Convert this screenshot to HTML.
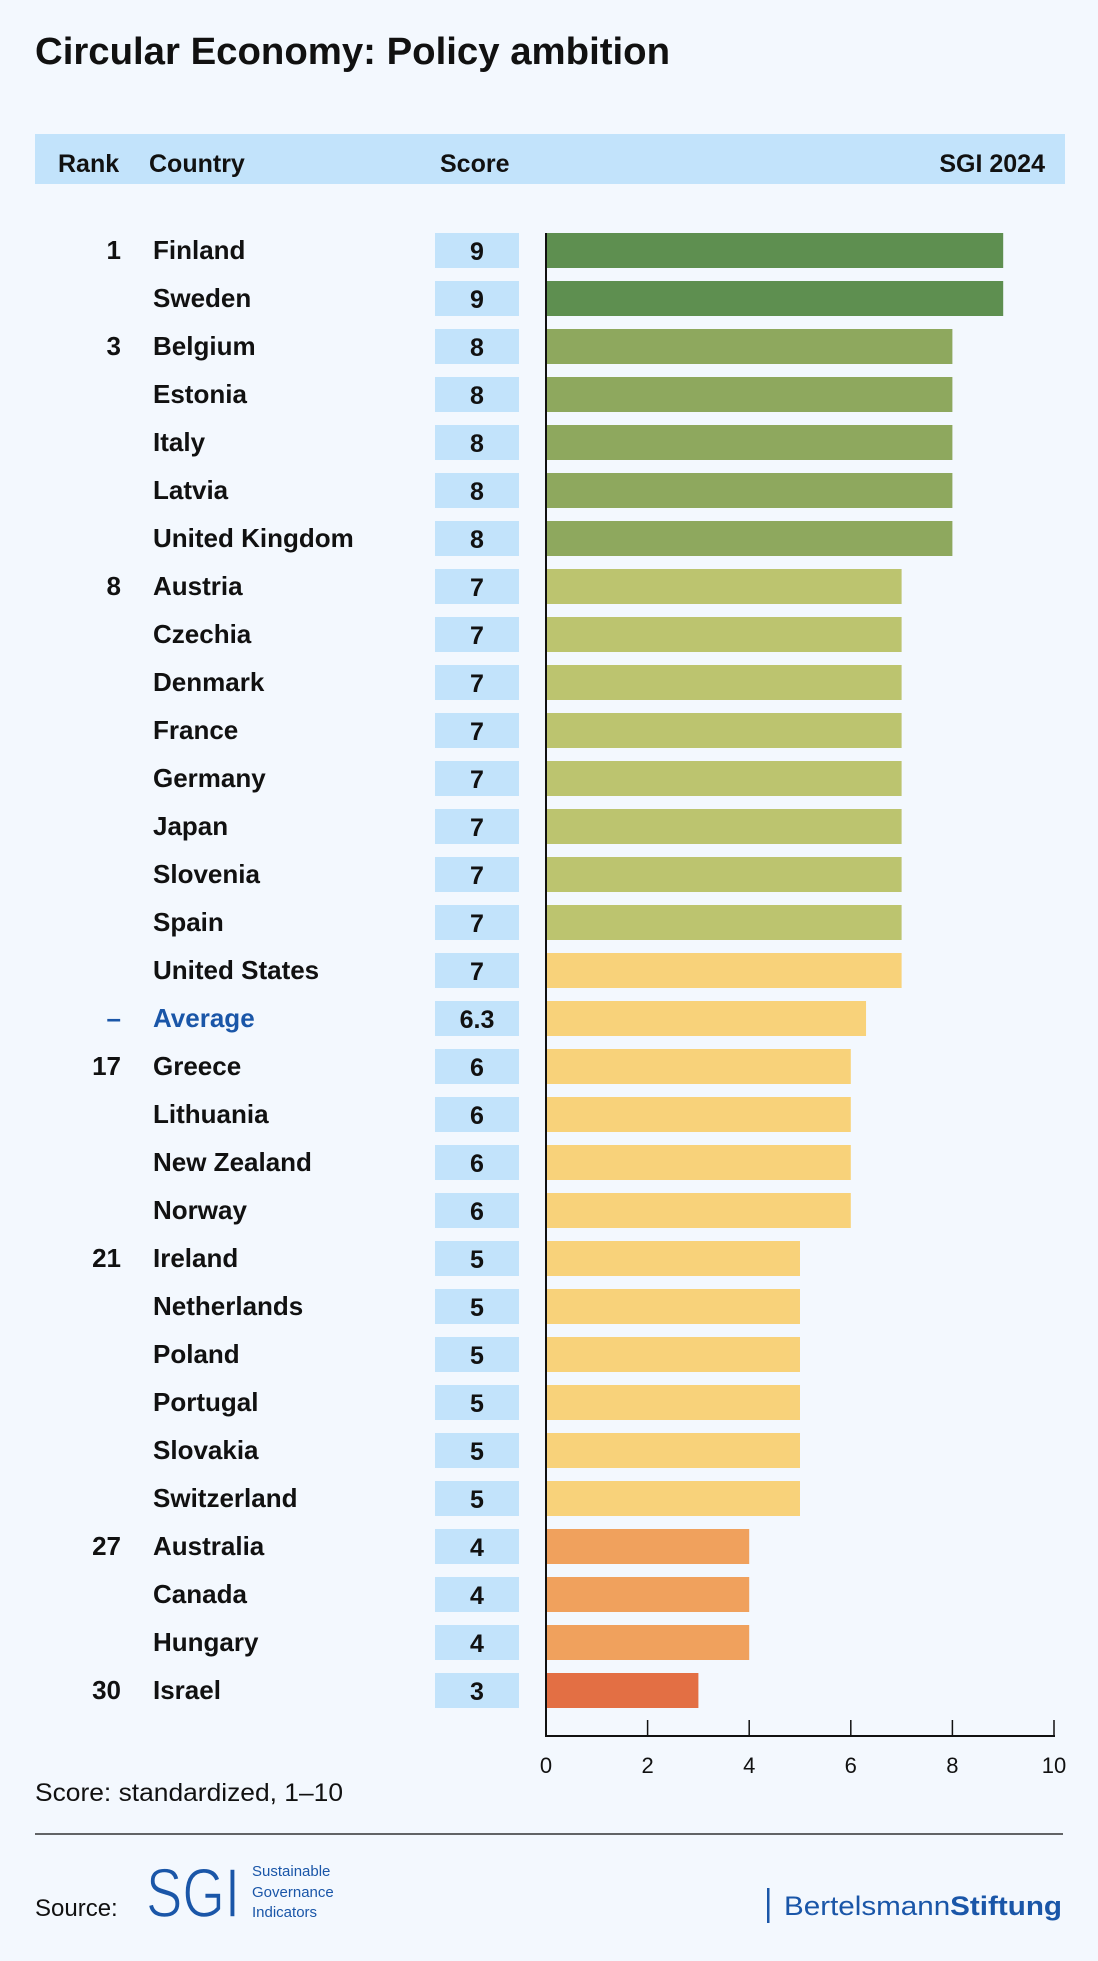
<!DOCTYPE html>
<html><head><meta charset="utf-8"><style>
html,body{margin:0;padding:0;background:#f3f8fe;}
svg{display:block;font-family:"Liberation Sans",sans-serif;}
</style></head><body>
<svg id="chart" width="1098" height="1961" viewBox="0 0 1098 1961" xmlns="http://www.w3.org/2000/svg">
<rect x="0" y="0" width="1098" height="1961" fill="#f3f8fe"/>
<text x="35" y="64" font-size="38" font-weight="bold" fill="#111" textLength="635" lengthAdjust="spacingAndGlyphs">Circular Economy: Policy ambition</text>
<g>
<rect x="35" y="134" width="1030" height="50" fill="#c2e3fb"/>
<text x="58" y="172" font-size="25" font-weight="bold" fill="#111">Rank</text>
<text x="149" y="172" font-size="25" font-weight="bold" fill="#111">Country</text>
<text x="440" y="172" font-size="25" font-weight="bold" fill="#111">Score</text>
<text x="1045" y="172" font-size="25" font-weight="bold" fill="#111" text-anchor="end">SGI 2024</text>
</g>
<g id="rows"></g>
<g id="axis"></g>
<text x="35" y="1801" font-size="25" fill="#111" textLength="308" lengthAdjust="spacingAndGlyphs">Score: standardized, 1–10</text>
<line x1="35" y1="1834" x2="1063" y2="1834" stroke="#333" stroke-width="1.5"/>
<text x="35" y="1916" font-size="24" fill="#111">Source:</text>
<g>
<text x="146" y="1917" font-size="70" fill="#1a56a8" font-weight="normal" textLength="94" lengthAdjust="spacingAndGlyphs" stroke="#f3f8fe" stroke-width="1.5">SGI</text>
<text x="252" y="1876" font-size="15" fill="#1a56a8">Sustainable</text>
<text x="252" y="1897" font-size="15" fill="#1a56a8">Governance</text>
<text x="252" y="1917" font-size="15" fill="#1a56a8">Indicators</text>
</g>
<g>
<rect x="767" y="1888" width="2.5" height="35" fill="#1a56a8"/>
<text x="784" y="1915" font-size="27" fill="#1a56a8" textLength="278" lengthAdjust="spacingAndGlyphs">Bertelsmann<tspan font-weight="bold">Stiftung</tspan></text>
</g>
</svg>
<script>
const countries = ["Finland","Sweden","Belgium","Estonia","Italy","Latvia","United Kingdom","Austria","Czechia","Denmark","France","Germany","Japan","Slovenia","Spain","United States","Average","Greece","Lithuania","New Zealand","Norway","Ireland","Netherlands","Poland","Portugal","Slovakia","Switzerland","Australia","Canada","Hungary","Israel"];
const ranks = ["1","","3","","","","","8","","","","","","","","","–","17","","","","21","","","","","","27","","","30"];
const scores = [9,9,8,8,8,8,8,7,7,7,7,7,7,7,7,7,6.3,6,6,6,6,5,5,5,5,5,5,4,4,4,3];
const scoreLabels = ["9","9","8","8","8","8","8","7","7","7","7","7","7","7","7","7","6.3","6","6","6","6","5","5","5","5","5","5","4","4","4","3"];
const colorGroups = ["g9","g9","g8","g8","g8","g8","g8","g7","g7","g7","g7","g7","g7","g7","g7","y","y","y","y","y","y","y","y","y","y","y","y","o","o","o","r"];
const xTicks = [0,2,4,6,8,10];

const palette = {g9:"#5e8f50",g8:"#8ea85e",g7:"#bcc46f",y:"#f8d27a",o:"#f0a15d",r:"#e36f44"};
const NS = "http://www.w3.org/2000/svg";
const x0 = 546, unit = 50.8, top0 = 233, step = 48, barH = 35;
const xScale = v => x0 + v * unit;
const yScale = i => top0 + i * step;
function mk(tag, attrs, parent){const e=document.createElementNS(NS,tag);for(const k in attrs)e.setAttribute(k,attrs[k]);parent.appendChild(e);return e;}
const rows = document.getElementById('rows');
countries.forEach((c,i)=>{
  const y = yScale(i);
  const isAvg = c === "Average";
  const g = mk('g',{},rows);
  
  
  if (ranks[i]) {
    const r = mk('text',{x:121,y:y+26,'font-size':26,'font-weight':'bold','text-anchor':'end',fill:isAvg?'#1a56a8':'#111'},g);
    r.textContent = ranks[i];
    
    
  }
  const t = mk('text',{x:153,y:y+26,'font-size':26,'font-weight':'bold',fill:isAvg?'#1a56a8':'#111'},g);
  t.textContent = c;
  
  
  const b = mk('rect',{x:435,y:y,width:84,height:barH,fill:'#c2e3fb'},g);
  
  
  const s = mk('text',{x:477,y:y+27,'font-size':25,'font-weight':'bold','text-anchor':'middle',fill:'#111'},g);
  s.textContent = scoreLabels[i];
  
  
  const bar = mk('rect',{x:xScale(0),y:y,width:xScale(scores[i])-xScale(0),height:barH,fill:palette[colorGroups[i]]},g);
  
  
});
const axis = document.getElementById('axis');
const yBottom = 1736;
const vl = mk('line',{x1:x0,y1:top0,x2:x0,y2:yBottom+1,stroke:'#111','stroke-width':2},axis);


const hl = mk('line',{x1:x0-1,y1:yBottom,x2:xScale(10)+1,y2:yBottom,stroke:'#111','stroke-width':2},axis);


xTicks.forEach(v=>{
  if (v>0) {
    const tk = mk('line',{x1:xScale(v),y1:yBottom-16,x2:xScale(v),y2:yBottom,stroke:'#111','stroke-width':1.5},axis);
    
    
  }
  const lb = mk('text',{x:xScale(v),y:1773,'font-size':22,'text-anchor':'middle',fill:'#111'},axis);
  lb.textContent = String(v);
  
  
});
</script>
</body></html>
